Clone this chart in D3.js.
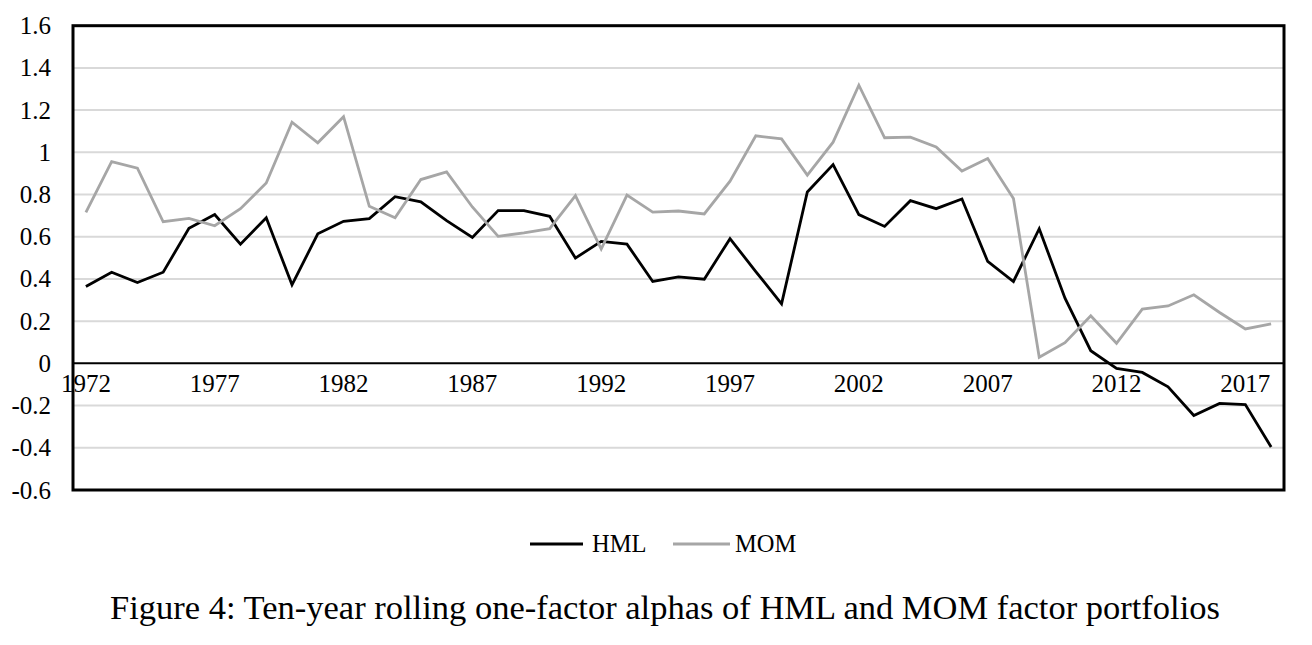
<!DOCTYPE html>
<html>
<head>
<meta charset="utf-8">
<script src="https://cdn.jsdelivr.net/npm/d3@7"></script>
<style>
  html, body { margin: 0; padding: 0; background: #fff; }
  svg { display: block; font-family: "Liberation Serif", "Times New Roman", serif; }
</style>
</head>
<body>
<svg id="chart" width="1312" height="645"></svg>
<script>
const years = d3.range(1972, 2019);
const hml = [0.364, 0.432, 0.383, 0.432, 0.640, 0.705, 0.565, 0.690, 0.372, 0.614,
             0.673, 0.686, 0.790, 0.765, 0.676, 0.597, 0.724, 0.724, 0.697, 0.499,
             0.578, 0.565, 0.388, 0.410, 0.399, 0.591, 0.435, 0.282, 0.812, 0.942,
             0.705, 0.649, 0.771, 0.733, 0.779, 0.483, 0.388, 0.638, 0.309, 0.060,
             -0.024, -0.043, -0.111, -0.247, -0.190, -0.195, -0.396];
const mom = [0.716, 0.956, 0.925, 0.671, 0.687, 0.652, 0.733, 0.855, 1.143, 1.045,
             1.169, 0.744, 0.690, 0.871, 0.907, 0.741, 0.602, 0.618, 0.638, 0.795,
             0.542, 0.797, 0.717, 0.722, 0.708, 0.863, 1.078, 1.064, 0.892, 1.048,
             1.318, 1.069, 1.072, 1.025, 0.911, 0.971, 0.781, 0.029, 0.098, 0.225,
             0.095, 0.257, 0.272, 0.325, 0.241, 0.163, 0.187];
const yTicks = [-0.6, -0.4, -0.2, 0, 0.2, 0.4, 0.6, 0.8, 1, 1.2, 1.4, 1.6];
const xTickYears = [1972, 1977, 1982, 1987, 1992, 1997, 2002, 2007, 2012, 2017];
const seriesNames = ["HML", "MOM"];
const seriesColors = ["#000000", "#a6a6a6"];
const title = "Figure 4: Ten-year rolling one-factor alphas of HML and MOM factor portfolios";

const svg = d3.select("#chart");
const L = 73, R = 1284, T = 25.7, B = 490;

const x = d3.scaleBand().domain(years).range([L, R]);
const y = d3.scaleLinear().domain([-0.6, 1.6]).range([B, T]);

// gridlines
svg.append("g").selectAll("line").data(yTicks.filter(d => d !== 0 && d !== -0.6 && d !== 1.6))
  .join("line")
  .attr("x1", L).attr("x2", R)
  .attr("y1", d => y(d)).attr("y2", d => y(d))
  .attr("stroke", "#d9d9d9").attr("stroke-width", 2);

// y axis labels
const yAxis = d3.axisLeft(y).tickValues(yTicks).tickSize(0).tickPadding(22)
  .tickFormat(d => String(+d.toFixed(1)));
const gy = svg.append("g").attr("transform", `translate(${L},0)`).call(yAxis);
gy.select(".domain").remove();
gy.selectAll("text").attr("font-size", 25).attr("fill", "#000")
  .attr("font-family", "Liberation Serif, serif");

// zero line
svg.append("line").attr("x1", L).attr("x2", R).attr("y1", y(0)).attr("y2", y(0))
  .attr("stroke", "#000").attr("stroke-width", 2);

// x axis labels at zero line
const xAxis = d3.axisBottom(x).tickValues(xTickYears).tickSize(0).tickPadding(11);
const gx = svg.append("g").attr("transform", `translate(0,${y(0)})`).call(xAxis);
gx.select(".domain").remove();
gx.selectAll("text").attr("font-size", 25).attr("fill", "#000")
  .attr("font-family", "Liberation Serif, serif");

// frame
svg.append("rect").attr("x", L).attr("y", T).attr("width", R - L).attr("height", B - T)
  .attr("fill", "none").attr("stroke", "#000").attr("stroke-width", 3);

// lines
const line = d3.line().x((d, i) => x(years[i]) + x.bandwidth() / 2).y(d => y(d));
[hml, mom].forEach((s, k) => {
  svg.append("path").datum(s).attr("d", line)
    .attr("fill", "none").attr("stroke", seriesColors[k]).attr("stroke-width", 2.8)
    .attr("stroke-linejoin", "miter").attr("stroke-miterlimit", 4);
});

// legend
const legendItems = [
  { name: seriesNames[0], color: seriesColors[0], x0: 530, x1: 583, tx: 592 },
  { name: seriesNames[1], color: seriesColors[1], x0: 673, x1: 730, tx: 735 }
];
const lg = svg.append("g");
legendItems.forEach(it => {
  lg.append("line").attr("x1", it.x0).attr("x2", it.x1).attr("y1", 544).attr("y2", 544)
    .attr("stroke", it.color).attr("stroke-width", 3);
  lg.append("text").attr("x", it.tx).attr("y", 552).attr("font-size", 24.5).attr("fill", "#000")
    .text(it.name);
});

// title
svg.append("text").attr("x", 665).attr("y", 619).attr("text-anchor", "middle")
  .attr("font-size", 34.5).attr("fill", "#000").text(title);
</script>
</body>
</html>
